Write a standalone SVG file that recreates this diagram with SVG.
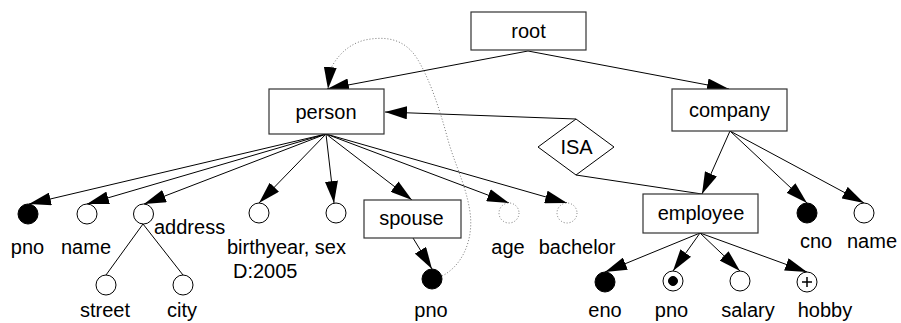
<svg xmlns="http://www.w3.org/2000/svg" width="901" height="323" viewBox="0 0 901 323">
<style>
.box{fill:#fff;stroke:#333;stroke-width:1.2}
.t{font-family:"Liberation Sans",Arial,sans-serif;font-size:20px;fill:#000;text-anchor:middle}
.ts{font-family:"Liberation Sans",Arial,sans-serif;font-size:20px;fill:#000;text-anchor:start}
.e{stroke:#000;stroke-width:1;fill:none}
.ea{stroke:#000;stroke-width:1;fill:none;marker-end:url(#ah)}
.c{fill:#fff;stroke:#000;stroke-width:1}
.f{fill:#000;stroke:#000;stroke-width:1}
.d{fill:#fff;stroke:#777;stroke-width:1;stroke-dasharray:1 2}
</style>
<defs>
<marker id="ah" viewBox="0 0 22 13" refX="22" refY="6.5" markerWidth="22" markerHeight="13" markerUnits="userSpaceOnUse" orient="auto">
<path d="M0,0 L22,6.5 L0,13 z" fill="#000"/>
</marker>
</defs>
<g id="connectors">
<line class="ea" x1="528" y1="51" x2="327" y2="89"/>
<line class="ea" x1="528" y1="51" x2="729" y2="89"/>
<line class="ea" x1="576" y1="119" x2="385" y2="112"/>
<line class="e" x1="576" y1="175" x2="702" y2="194"/>
<line class="ea" x1="326" y1="134" x2="29" y2="204"/>
<line class="ea" x1="326" y1="134" x2="87" y2="204"/>
<line class="ea" x1="326" y1="134" x2="144" y2="204"/>
<line class="ea" x1="326" y1="134" x2="259" y2="203"/>
<line class="ea" x1="326" y1="134" x2="334" y2="203"/>
<line class="ea" x1="326" y1="134" x2="412" y2="200"/>
<line class="ea" x1="326" y1="134" x2="509" y2="203"/>
<line class="ea" x1="326" y1="134" x2="567" y2="203"/>
<line class="e" x1="143" y1="224" x2="106" y2="275"/>
<line class="e" x1="143" y1="224" x2="183" y2="275"/>
<line class="ea" x1="413" y1="238" x2="432" y2="269"/>
<line class="ea" x1="730" y1="131" x2="702" y2="194"/>
<line class="ea" x1="730" y1="131" x2="807" y2="203"/>
<line class="ea" x1="730" y1="131" x2="864" y2="203"/>
<line class="ea" x1="700" y1="233" x2="605" y2="272"/>
<line class="ea" x1="700" y1="233" x2="673" y2="271"/>
<line class="ea" x1="700" y1="233" x2="740" y2="271"/>
<line class="ea" x1="700" y1="233" x2="807" y2="272"/>
<path d="M442,276 C462,266 474,240 470,212 C466,185 455,165 448,140 C440,110 430,80 418,60 C405,38 385,36 365,40 C345,45 335,60 330,70" stroke="#777" stroke-width="1" stroke-dasharray="1 2" fill="none"/>
<path d="M330,70 L328,89" stroke="none" fill="none" marker-end="url(#ah)"/>
</g>
<g id="root"><rect class="box" x="471" y="12" width="115" height="38"/><text class="t" x="528.5" y="38">root</text></g>
<g id="person"><rect class="box" x="269" y="89" width="115" height="45"/><text class="t" x="326" y="119">person</text></g>
<g id="company"><rect class="box" x="672" y="89" width="115" height="42"/><text class="t" x="729.5" y="117">company</text></g>
<g id="isa"><polygon points="576,119 614,147 576,175 538,147" fill="#fff" stroke="#000" stroke-width="1"/><text class="t" x="576.5" y="153.5">ISA</text></g>
<g id="employee"><rect class="box" x="643" y="194" width="115" height="39"/><text class="t" x="701" y="220">employee</text></g>
<g id="spouse"><rect class="box" x="364" y="200" width="97" height="38"/><text class="t" x="411.5" y="225">spouse</text></g>
<g id="person-pno"><circle class="f" cx="28" cy="214" r="10"/><text class="t" x="27.5" y="254">pno</text></g>
<g id="person-name"><circle class="c" cx="87" cy="214" r="10"/><text class="t" x="86" y="254">name</text></g>
<g id="address"><circle class="c" cx="143.5" cy="214" r="10"/><text class="ts" x="154" y="234">address</text></g>
<g id="birthyear"><circle class="c" cx="259" cy="213" r="10"/><text class="ts" x="227" y="254">birthyear, sex</text><text class="ts" x="233" y="278">D:2005</text></g>
<g id="sex"><circle class="c" cx="336" cy="213" r="10"/></g>
<g id="street"><circle class="c" cx="106" cy="285" r="10"/><text class="t" x="105" y="317">street</text></g>
<g id="city"><circle class="c" cx="183" cy="285" r="10"/><text class="t" x="182" y="317">city</text></g>
<g id="spouse-pno"><circle class="f" cx="432" cy="279" r="10"/><text class="t" x="431" y="317">pno</text></g>
<g id="age"><circle class="d" cx="509" cy="213" r="10"/><text class="t" x="508" y="254">age</text></g>
<g id="bachelor"><circle class="d" cx="567" cy="213" r="10"/><text class="t" x="577" y="254">bachelor</text></g>
<g id="cno"><circle class="f" cx="807" cy="213" r="10"/><text class="t" x="816" y="248">cno</text></g>
<g id="company-name"><circle class="c" cx="864" cy="213" r="10"/><text class="t" x="872" y="248">name</text></g>
<g id="eno"><circle class="f" cx="605" cy="282" r="10"/><text class="t" x="605" y="317">eno</text></g>
<g id="employee-pno"><circle class="c" cx="673" cy="281" r="10"/><circle class="f" cx="673" cy="281" r="4.5"/><text class="t" x="671.5" y="317">pno</text></g>
<g id="salary"><circle class="c" cx="740" cy="281" r="10"/><text class="t" x="748" y="317">salary</text></g>
<g id="hobby"><circle class="c" cx="807" cy="282" r="10"/><path d="M802,282 H812 M807,277 V287" stroke="#000" stroke-width="1.5"/><text class="t" x="825" y="317">hobby</text></g>
</svg>
